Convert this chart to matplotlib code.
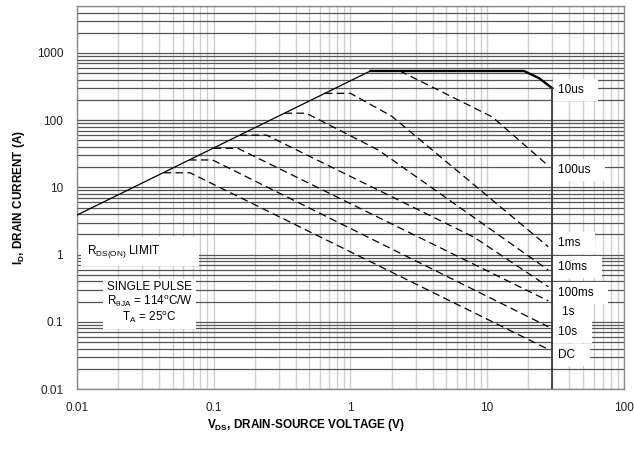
import matplotlib
matplotlib.use("Agg")
import matplotlib.pyplot as plt

plt.rcParams['font.family'] = ['Liberation Sans', 'DejaVu Sans']
plt.rcParams['mathtext.fontset'] = 'custom'
plt.rcParams['mathtext.rm'] = 'Liberation Sans'
plt.rcParams['mathtext.it'] = 'Liberation Sans:italic'
plt.rcParams['mathtext.bf'] = 'Liberation Sans:bold'

# RDS(on) limit line
rds_v = [0.01, 1.4]
rds_i = [3.88, 540]

# 10us boundary (flat part + roll-off) and 30 V limit
us10_v = [1.4, 18.6, 24, 30]
us10_i = [540, 540, 421, 298]
vmax_v = [30, 30]
vmax_i = [298, 0.01]

# dashed pulse curves
curves = {
    '100us': ([2.3, 10.9, 28], [540, 112, 21]),
    '1ms': ([0.65, 1.0, 2.0, 28], [251, 251, 115, 1.31]),
    '10ms': ([0.33, 0.475, 1.6, 28], [127, 127, 36, 0.59]),
    '100ms': ([0.155, 0.243, 8, 28], [60, 60, 1.82, 0.333]),
    '1s': ([0.1, 0.15, 28], [38.2, 38.2, 0.205]),
    '10s': ([0.066, 0.098, 28], [25.6, 25.6, 0.0845]),
    'DC': ([0.043, 0.067, 28], [16.5, 16.5, 0.039]),
}

# curve labels at the right of the 30 V line
lbl_text = ['10us', '100us', '1ms', '10ms', '100ms', '1s', '10s', 'DC']
lbl_x = [33, 33, 33, 33, 33, 35, 33, 33]
lbl_y = [281, 18.2, 1.49, 0.653, 0.268, 0.14, 0.0705, 0.032]

xticks = [0.01, 0.1, 1, 10, 100]
xtick_labels = ['0.01', '0.1', '1', '10', '100']
yticks = [0.01, 0.1, 1, 10, 100, 1000]
ytick_labels = ['0.01', '0.1', '1', '10', '100', '1000']

fig = plt.figure(figsize=(6.34, 4.49), dpi=100)
ax = fig.add_axes([0.1215, 0.1336, 0.8625, 0.853])
ax.set_xscale('log')
ax.set_yscale('log')
ax.set_xlim(0.01, 100)
ax.set_ylim(0.01, 5000)

ax.grid(axis='x', which='both', color='#cfcfcf', lw=1.0, zorder=0)
ax.grid(axis='y', which='both', color='#555555', lw=0.9, zorder=0)
ax.set_axisbelow(True)

ax.plot(rds_v, rds_i, color='black', lw=0.9, zorder=3)
ax.plot(us10_v, us10_i, color='black', lw=1.7, zorder=3)
ax.plot(vmax_v, vmax_i, color='#3a3a3a', lw=1.3, zorder=3)
for name, (v, i) in curves.items():
    ax.plot(v, i, color='black', lw=0.9, dashes=(6, 3.5), zorder=3)

box = dict(boxstyle='square,pad=0.4', fc='white', ec='none')
for t, x, y in zip(lbl_text, lbl_x, lbl_y):
    ax.text(x, y, t + '   ', fontsize=8.5, ha='left', va='center', bbox=box, zorder=2)

ax.text(0.0118, 1.12, r'R$_{\mathrm{DS(ON)}}$ LIMIT' + ' ' * 11, fontsize=8.5, ha='left',
        va='center', bbox=dict(boxstyle='square,pad=0.5', fc='white', ec='none'), zorder=2)
ax.text(0.034, 0.19, 'SINGLE PULSE\n' + r'R$_{\mathrm{\theta JA}}$ = 114$^{\mathrm{o}}$C/W' + '\n'
        + r'T$_{\mathrm{A}}$ = 25$^{\mathrm{o}}$C', fontsize=8.5, ha='center', va='center',
        multialignment='center', linespacing=1.0,
        bbox=dict(boxstyle='square,pad=0.3', fc='white', ec='none'), zorder=2)

ax.set_xticks(xticks)
ax.set_xticklabels(xtick_labels)
ax.set_yticks(yticks)
ax.set_yticklabels(ytick_labels)
ax.tick_params(which='both', length=0, labelsize=8.5, colors='#222222')
ax.tick_params(axis='x', pad=9)
ax.tick_params(axis='y', pad=10)

for s in ax.spines.values():
    s.set_color('#8a8a8a')
    s.set_linewidth(1.0)

ax.set_xlabel(r'V$_{\mathbf{DS}}$, DRAIN-SOURCE VOLTAGE (V)', fontsize=8.5, fontweight='bold')
ax.xaxis.set_label_coords(0.419, -0.073)
ax.set_ylabel(r'I$_{\mathbf{D}}$, DRAIN CURRENT (A)', fontsize=8.5, fontweight='bold')
ax.yaxis.set_label_coords(-0.092, 0.5)

fig.savefig('out.png', dpi=100)
